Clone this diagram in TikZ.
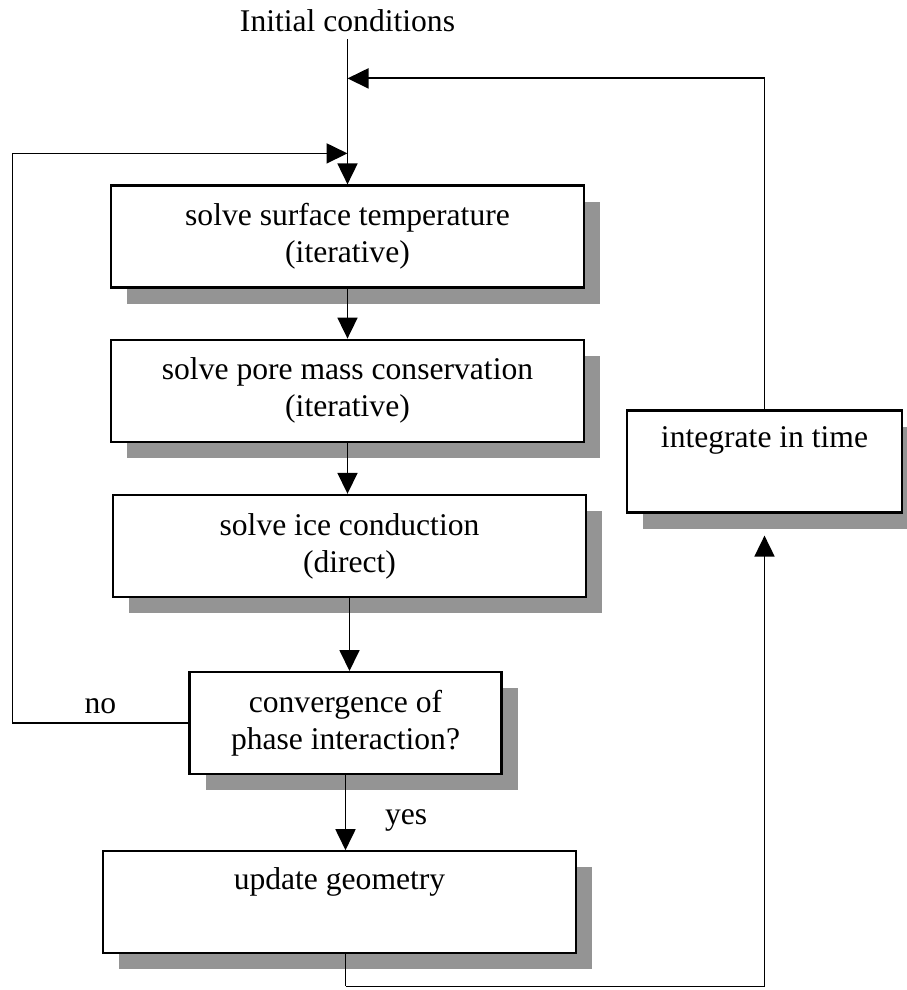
\documentclass[tikz,border=0pt]{standalone}
\usepackage{fontspec}
\setmainfont{Liberation Serif}
\usetikzlibrary{positioning, shadows, arrows.meta}

\begin{document}
\begin{tikzpicture}[font=\fontsize{15.8}{18.5}\selectfont,
    arrow/.style={-{Triangle[length=10.5pt, width=10pt]}, line width=0.9pt},
    line/.style={draw, line width=0.9pt},
    box/.style={draw, rectangle, line width=1.1pt, fill=white, align=center, minimum width=236.5pt, minimum height=51pt, copy shadow={shadow xshift=8pt, shadow yshift=-8pt, fill=black!42, draw=none}}]

    \useasboundingbox (0,0) rectangle (453pt,-495pt);

    \node [box] (surf) at (173.75pt,-118.25pt) {solve surface temperature\\(iterative)};
    \node [box, below = 25pt of surf] (pore) {solve pore mass conservation\\(iterative)};
    \node [box, below = 25.5pt of pore, xshift=1pt] (ice) {solve ice conduction\\(direct)};
    \node [box, below = 36.5pt of ice, xshift=-2pt, minimum width=156pt] (conv) {convergence of\\phase interaction?};
    \node [box, below = 37.5pt of conv, xshift=-3pt] (upd) {update geometry\\\strut};
    \node [box, minimum width=137.5pt] (integ) at (382.25pt,-230.75pt) {integrate in time\\\strut};
    \node [above = 72.5pt of surf, inner sep=3.5pt] (init) {Initial conditions};

    \coordinate [above = 53pt of surf.north] (rjoin);
    \coordinate [above = 15.5pt of surf.north] (ljoin);
    \coordinate [left = 88pt of conv.west] (nocorner);
    \coordinate [below = 16pt of upd.south -| conv.south] (bottom);

    \draw[arrow] (init) -- (surf);
    \draw[arrow] (surf) -- (pore);
    \draw[arrow] (pore.south) -- (pore.south |- ice.north);
    \draw[arrow] (ice.south) -- (ice.south |- conv.north);
    \draw[arrow] (conv.south) -- (conv.south |- upd.north) node[pos=0.6, right=16pt] {yes};
    \draw[arrow] (conv.west) -- node[above=1pt] {no} (nocorner) |- (ljoin);
    \draw[arrow] (integ.north) |- (rjoin);
    \draw[line] (conv.south |- upd.south) -- (bottom);
    \draw[arrow, shorten >=11pt] (bottom) -| (integ.south);

\end{tikzpicture}
\end{document}
